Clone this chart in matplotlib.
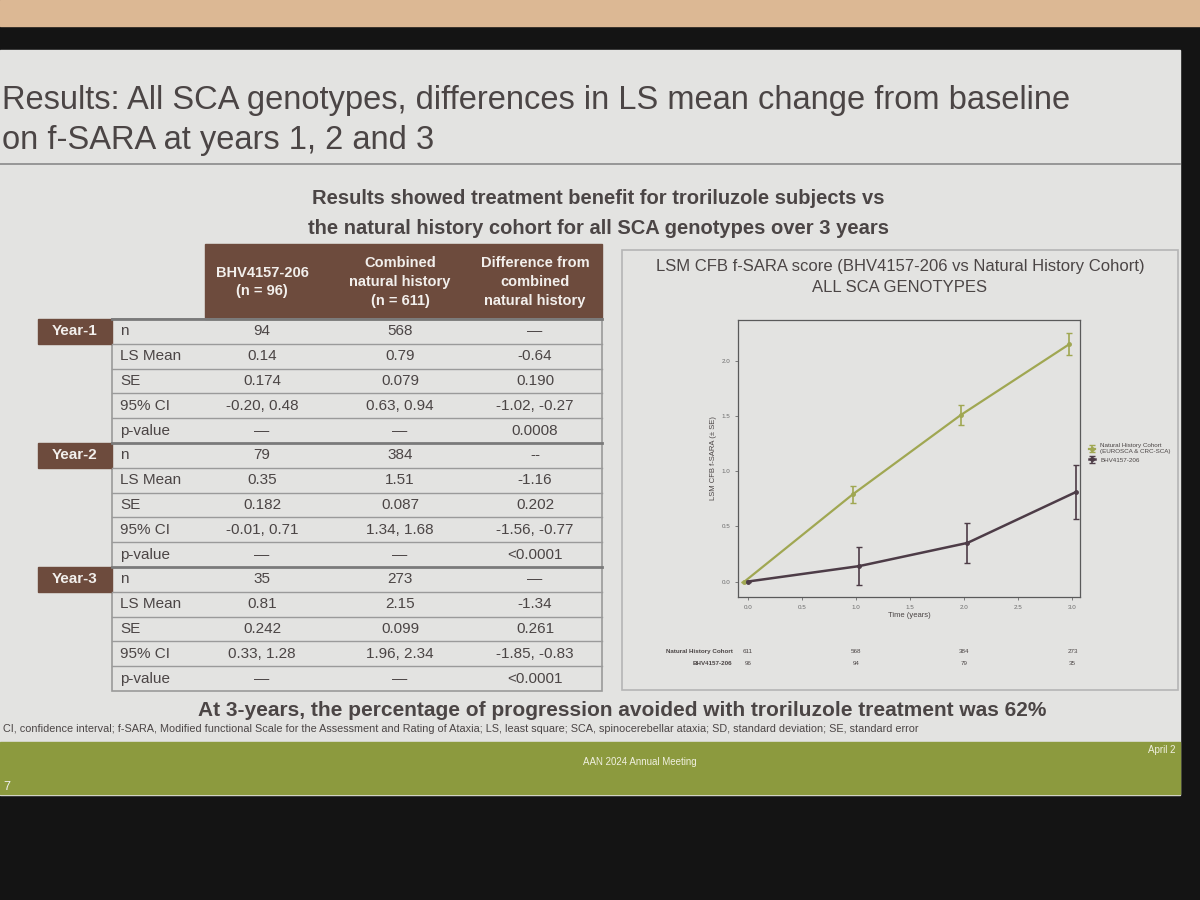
import matplotlib
matplotlib.use("Agg")
import matplotlib.pyplot as plt
from matplotlib.patches import Rectangle
import matplotlib.transforms as mtransforms
from matplotlib import font_manager

plt.rcParams['font.family'] = ['Liberation Sans', 'DejaVu Sans']
installed = {f.name for f in font_manager.fontManager.ttflist}
narrow = 'Liberation Sans Narrow' in installed
head_font = ['Liberation Sans Narrow', 'Liberation Sans', 'DejaVu Sans'] if narrow else ['Liberation Sans', 'DejaVu Sans']

# chart data (LS mean change from baseline, +/- SE)
years = [0, 1, 2, 3]
nh_mean = [0.0, 0.79, 1.51, 2.15]
nh_se = [0.0, 0.079, 0.087, 0.099]
bhv_mean = [0.0, 0.14, 0.35, 0.81]
bhv_se = [0.0, 0.174, 0.182, 0.242]
nh_n = [611, 568, 384, 273]
bhv_n = [96, 94, 79, 35]

# table data
col_heads = ['BHV4157-206\n(n = 96)', 'Combined\nnatural history\n(n = 611)',
             'Difference from\ncombined\nnatural history']
row_labels = ['n', 'LS Mean', 'SE', '95% CI', 'p-value']
year_labels = ['Year-1', 'Year-2', 'Year-3']
bhv_col = [['94', '0.14', '0.174', '-0.20, 0.48', '\u2014'],
           ['79', '0.35', '0.182', '-0.01, 0.71', '\u2014'],
           ['35', '0.81', '0.242', '0.33, 1.28', '\u2014']]
nh_col = [['568', '0.79', '0.079', '0.63, 0.94', '\u2014'],
          ['384', '1.51', '0.087', '1.34, 1.68', '\u2014'],
          ['273', '2.15', '0.099', '1.96, 2.34', '\u2014']]
diff_col = [['\u2014', '-0.64', '0.190', '-1.02, -0.27', '0.0008'],
            ['--', '-1.16', '0.202', '-1.56, -0.77', '<0.0001'],
            ['\u2014', '-1.34', '0.261', '-1.85, -0.83', '<0.0001']]

wall = '#dcb894'
bezel = '#141414'
slide = '#e3e3e1'
txt = '#4b4545'
brown = '#6d4b3d'
band = '#8c9a3e'
green = '#a0a752'
purple = '#4d3c47'
grid_c = '#9a9a9a'

fig = plt.figure(figsize=(12, 9), dpi=100)
bg = fig.add_axes([0, 0, 1, 1])
bg.set_xlim(0, 1200)
bg.set_ylim(900, 0)
bg.axis('off')

# backdrop: wall, screen bezel, slide
bg.add_patch(Rectangle((0, 0), 1200, 900, color=bezel))
bg.add_patch(Rectangle((0, 0), 1200, 26, color=wall))
bg.add_patch(Rectangle((0, 50), 1180, 745, color=slide))
bg.add_patch(Rectangle((0, 742), 1180, 52, color=band))

# title
tsize = 28 if narrow else 23.5
bg.text(2, 101, 'Results: All SCA genotypes, differences in LS mean change from baseline',
        fontsize=tsize, color=txt, va='center', ha='left', family=head_font)
bg.text(2, 140, 'on f-SARA at years 1, 2 and 3', fontsize=tsize, color=txt,
        va='center', ha='left', family=head_font)
bg.plot([0, 1180], [164, 164], color='#8a8a8a', lw=1.2)

ssize = 17 if narrow else 14.5
bg.text(598, 199, 'Results showed treatment benefit for troriluzole subjects vs',
        fontsize=ssize, fontweight='bold', color=txt, ha='center', va='center', family=head_font)
bg.text(598, 229, 'the natural history cohort for all SCA genotypes over 3 years',
        fontsize=ssize, fontweight='bold', color=txt, ha='center', va='center', family=head_font)

# results table
col_x = [262, 400, 535]
bg.add_patch(Rectangle((205, 244), 397, 75, color=brown))
for cx, head in zip(col_x, col_heads):
    bg.text(cx, 282, head, fontsize=10.5, color='#f2efec', fontweight='bold',
            ha='center', va='center', linespacing=1.45)

row_h = 24.8
top = 319
bg.add_patch(Rectangle((112, top), 490, row_h * 15, facecolor='none',
                       edgecolor=grid_c, lw=1.2))
for b in range(3):
    y0 = top + b * 5 * row_h
    bg.add_patch(Rectangle((38, y0), 74, row_h, color=brown))
    bg.text(75, y0 + row_h / 2, year_labels[b], fontsize=11, fontweight='bold',
            color='#f2efec', ha='center', va='center')
    for r in range(5):
        yr = y0 + r * row_h
        lw = 2.0 if r == 0 else 1.0
        bg.plot([112, 602], [yr, yr], color='#7a7a7a' if r == 0 else grid_c, lw=lw)
        yc = yr + row_h / 2
        bg.text(120, yc, row_labels[r], fontsize=11, color=txt, va='center')
        bg.text(col_x[0], yc, bhv_col[b][r], fontsize=11, color=txt,
                ha='center', va='center')
        bg.text(col_x[1], yc, nh_col[b][r], fontsize=11, color=txt,
                ha='center', va='center')
        bg.text(col_x[2], yc, diff_col[b][r], fontsize=11, color=txt,
                ha='center', va='center')

# chart panel frame
bg.add_patch(Rectangle((622, 250), 556, 440, facecolor='none', edgecolor='#b5b5b5', lw=1.2))
bg.text(900, 267, 'LSM CFB f-SARA score (BHV4157-206 vs Natural History Cohort)',
        fontsize=12, color=txt, ha='center', va='center')
bg.text(900, 287, 'ALL SCA GENOTYPES', fontsize=12, color=txt, ha='center', va='center')

# bottom text
bg.text(622, 710, 'At 3-years, the percentage of progression avoided with troriluzole treatment was 62%',
        fontsize=15, fontweight='bold', color=txt, ha='center', va='center')
bg.text(3, 729, 'CI, confidence interval; f-SARA, Modified functional Scale for the Assessment and Rating '
        'of Ataxia; LS, least square; SCA, spinocerebellar ataxia; SD, standard deviation; SE, standard error',
        fontsize=7.8, color=txt, va='center')
bg.text(640, 762, 'AAN 2024 Annual Meeting', fontsize=7, color='#f0f0e0', ha='center', va='center')
bg.text(1176, 750, 'April 2', fontsize=7, color='#f0f0e0', ha='right', va='center')
bg.text(3, 787, '7', fontsize=9, color='#f0f0f0', va='center')

# line chart
ax = fig.add_axes([738 / 1200, 1 - 597 / 900, 342 / 1200, 277 / 900])
ax.set_facecolor(slide)
nh_x = [t - 0.03 for t in years]
bhv_x = [t + 0.03 if t > 0 else t for t in years]
ax.errorbar(nh_x, nh_mean, yerr=nh_se, color=green, lw=1.6, marker='o', ms=2.5,
            capsize=2, elinewidth=1.2, label='Natural History Cohort\n(EUROSCA & CRC-SCA)')
ax.errorbar(bhv_x, bhv_mean, yerr=bhv_se, color=purple, lw=1.8, marker='o', ms=2.5,
            capsize=2, elinewidth=1.2, label='BHV4157-206')
ax.set_xlim(-0.09, 3.07)
ax.set_ylim(-0.14, 2.37)
ax.set_xticks([0, 0.5, 1.0, 1.5, 2.0, 2.5, 3.0])
ax.set_yticks([0, 0.5, 1.0, 1.5, 2.0])
ax.xaxis.set_major_formatter(matplotlib.ticker.FormatStrFormatter('%.1f'))
ax.yaxis.set_major_formatter(matplotlib.ticker.FormatStrFormatter('%.1f'))
ax.tick_params(labelsize=4.5, colors='#6a6a6a', length=2, width=0.6)
for s in ax.spines.values():
    s.set_color('#5a5a5a')
    s.set_linewidth(0.9)
ax.set_xlabel('Time (years)', fontsize=5.5, color=txt, labelpad=2)
ax.set_ylabel('LSM CFB f-SARA (\u00b1 SE)', fontsize=5.5, color=txt, labelpad=3)
ax.legend(loc='center left', bbox_to_anchor=(1.01, 0.52), fontsize=4.5, frameon=False,
          handlelength=1.0, labelcolor=txt)

# numbers at risk under the chart
trans = mtransforms.blended_transform_factory(ax.transData, ax.transAxes)
ax.text(-0.14, -0.198, 'Natural History Cohort', transform=trans, fontsize=4.5,
        color=txt, ha='right', va='center', fontweight='bold')
ax.text(-0.14, -0.24, 'BHV4157-206', transform=trans, fontsize=4.5,
        color=txt, ha='right', va='center', fontweight='bold')
for t, a, b in zip(years, nh_n, bhv_n):
    ax.text(t, -0.198, str(a), transform=trans, fontsize=4.5, color=txt, ha='center', va='center')
    ax.text(t, -0.24, str(b), transform=trans, fontsize=4.5, color=txt, ha='center', va='center')

fig.savefig('out.png', dpi=100)
